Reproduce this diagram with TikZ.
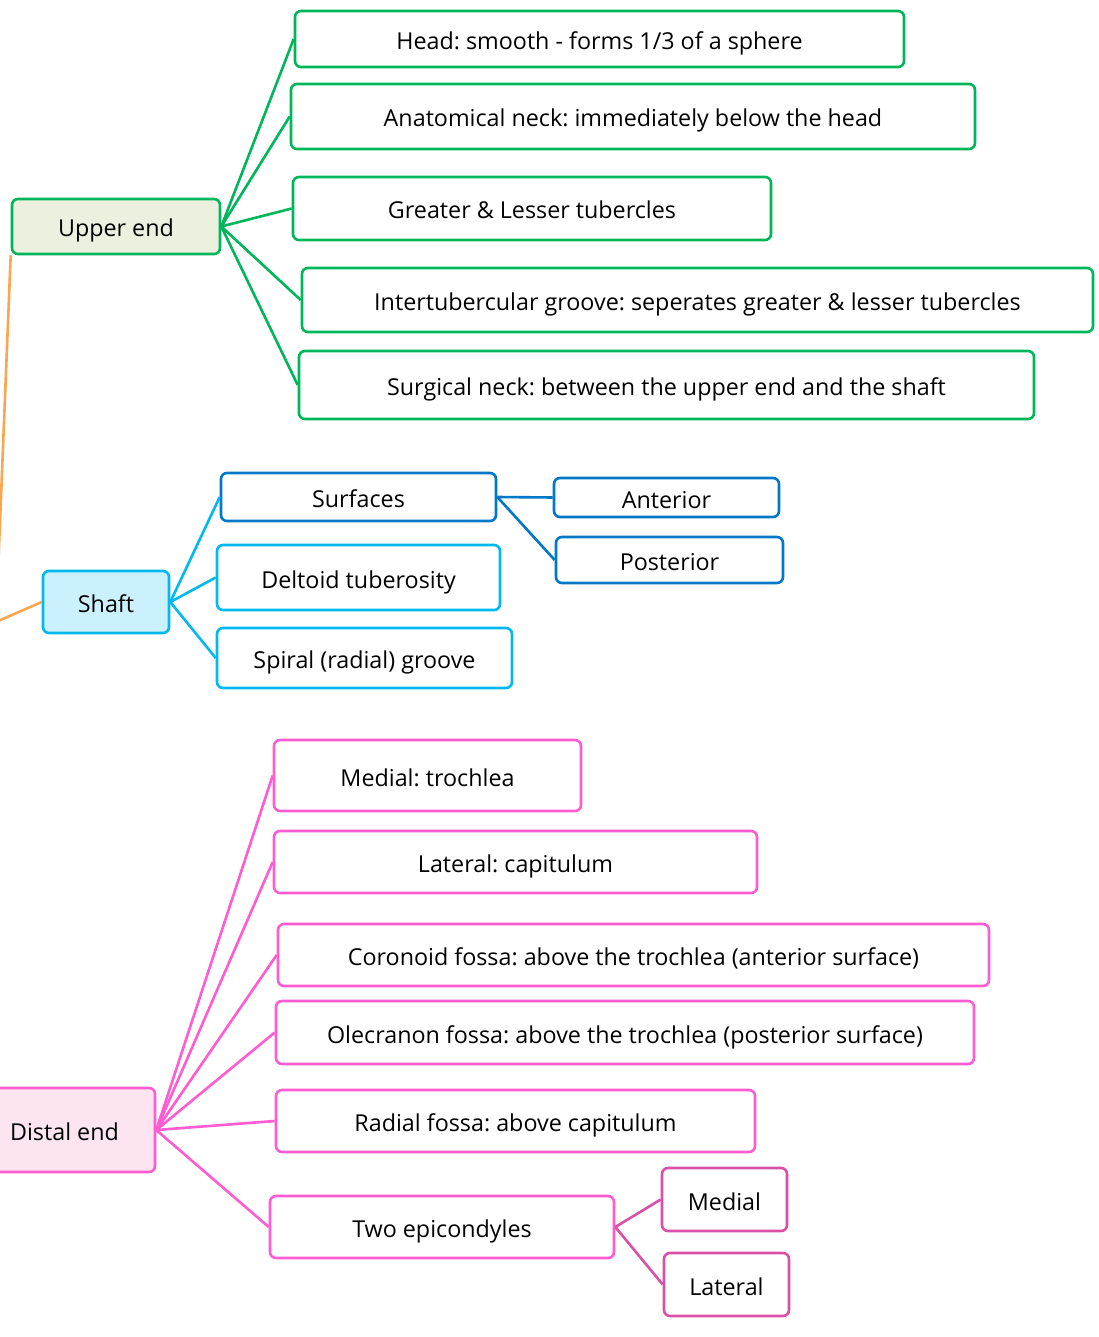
\documentclass[tikz,border=0pt]{standalone}
\usepackage{fontspec}
\setmainfont{Open Sans}
\frenchspacing
\definecolor{upgreen}{RGB}{0,182,90}
\definecolor{upfill}{RGB}{235,241,222}
\definecolor{shcyan}{RGB}{0,185,240}
\definecolor{shfill}{RGB}{204,241,254}
\definecolor{shblue}{RGB}{0,120,200}
\definecolor{dspink}{RGB}{255,92,210}
\definecolor{dsfill}{RGB}{252,228,240}
\definecolor{dsdeep}{RGB}{218,80,168}
\definecolor{rootorange}{RGB}{250,166,80}
\tikzset{
  box/.style={draw, line width=2.6pt, rounded corners=6pt, inner sep=0pt,
    font=\fontsize{23.3}{28}\selectfont, text=black, anchor=center,
    text height=21pt, text depth=0pt},
  wh/.style 2 args={minimum width=#1pt, minimum height=#2pt},
  gbox/.style={box, draw=upgreen},
  cbox/.style={box, draw=shcyan},
  bbox/.style={box, draw=shblue},
  pbox/.style={box, draw=dspink},
  dbox/.style={box, draw=dsdeep},
  glink/.style={draw=upgreen, line width=2.6pt},
  clink/.style={draw=shcyan, line width=2.6pt},
  blink/.style={draw=shblue, line width=2.6pt},
  plink/.style={draw=dspink, line width=2.6pt},
  dlink/.style={draw=dsdeep, line width=2.6pt},
  olink/.style={draw=rootorange, line width=2.6pt},
}
\begin{document}
\begin{tikzpicture}[x=1pt,y=-1pt]
\useasboundingbox (0,0) rectangle (1098,1337);
\clip (0,0) rectangle (1098,1337);
\fill[white] (0,0) rectangle (1098,1337);

\coordinate (root) at (-4,622);

% upper end
\node[gbox, fill=upfill, wh={208}{55}] (upper) at (116,226.5) {Upper end};
\node[gbox, wh={609}{56}] (head) at (599.5,39) {Head: smooth - forms 1/3 of a sphere};
\node[gbox, wh={684}{65}] (aneck) at (633,116.5) {Anatomical neck: immediately below the head};
\node[gbox, wh={478}{63}] (tuber) at (532,208.5) {Greater \& Lesser tubercles};
\node[gbox, wh={791}{64}] (groove) at (697.5,300) {Intertubercular groove: seperates greater \& lesser tubercles};
\node[gbox, wh={735}{68}] (sneck) at (666.5,385) {Surgical neck: between the upper end and the shaft};

% shaft
\node[cbox, fill=shfill, wh={126}{62}] (shaft) at (106,602) {Shaft};
\node[bbox, wh={275}{48}] (surf) at (358.5,497) {Surfaces};
\node[cbox, wh={283}{65}] (delt) at (358.5,577.5) {Deltoid tuberosity};
\node[cbox, wh={295}{60}] (spiral) at (364.5,658) {Spiral (radial) groove};
\node[bbox, wh={225}{39}] (ant) at (666.5,497.5) {Anterior};
\node[bbox, wh={227}{46}] (post) at (669.5,560) {Posterior};

% distal end
\node[pbox, fill=dsfill, wh={175}{84}] (distal) at (67.5,1130) {\hspace*{-6pt}Distal end};
\node[pbox, wh={307}{71}] (mtro) at (427.5,775.5) {Medial: trochlea};
\node[pbox, wh={483}{62}] (lcap) at (515.5,862) {Lateral: capitulum};
\node[pbox, wh={711}{62}] (cor) at (633.5,955) {Coronoid fossa: above the trochlea (anterior surface)};
\node[pbox, wh={698}{63}] (ole) at (625,1032.5) {Olecranon fossa: above the trochlea (posterior surface)};
\node[pbox, wh={479}{62}] (rad) at (515.5,1121) {Radial fossa: above capitulum};
\node[pbox, wh={344}{62}] (epi) at (442,1227) {Two epicondyles};
\node[dbox, wh={125}{63}] (emed) at (724.5,1199.5) {Medial};
\node[dbox, wh={125}{63}] (elat) at (726.5,1284.5) {Lateral};

% links from the root
\path[olink] (root) -- (upper.south west);
\path[olink] (root) -- (shaft.west);

% upper end links
\foreach \t in {head,aneck,tuber,groove,sneck}
  \path[glink] (upper.east) -- (\t.west);

% shaft links
\path[clink] (shaft.east) -- (surf.west);
\path[clink] (shaft.east) -- (delt.west);
\path[clink] (shaft.east) -- (spiral.west);
\path[blink] (surf.east) -- (ant.west);
\path[blink] (surf.east) -- (post.west);

% distal end links
\foreach \t in {mtro,lcap,cor,ole,rad,epi}
  \path[plink] (distal.east) -- (\t.west);
\path[dlink] (epi.east) -- (emed.west);
\path[dlink] (epi.east) -- (elat.west);
\end{tikzpicture}
\end{document}
